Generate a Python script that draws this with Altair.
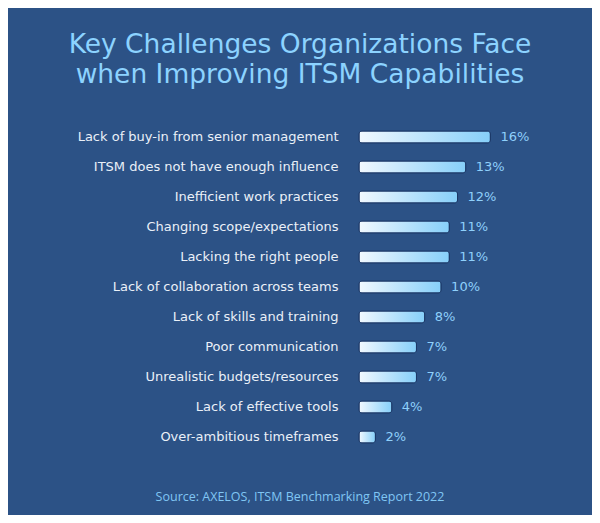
import altair as alt
import pandas as pd

categories = [
    "Lack of buy-in from senior management",
    "ITSM does not have enough influence",
    "Inefficient work practices",
    "Changing scope/expectations",
    "Lacking the right people",
    "Lack of collaboration across teams",
    "Lack of skills and training",
    "Poor communication",
    "Unrealistic budgets/resources",
    "Lack of effective tools",
    "Over-ambitious timeframes",
]
values = [16, 13, 12, 11, 11, 10, 8, 7, 7, 4, 2]
title_lines = ["Key Challenges Organizations Face", "when Improving ITSM Capabilities"]
source_text = "Source: AXELOS, ITSM Benchmarking Report 2022"

BG = "#2c5286"
FONT = "DejaVu Sans"

df = pd.DataFrame({"cat": categories, "val": values})
df["lab"] = [f"{v}%" for v in values]

y_enc = alt.Y("cat:N", sort=categories, title=None,
              scale=alt.Scale(paddingInner=0.6, paddingOuter=0.3),
              axis=alt.Axis(domain=False, ticks=False, labelPadding=21,
                            labelFontSize=13, labelColor="#eaf0f8",
                            labelFont=FONT, labelLimit=400))
x_enc = alt.X("val:Q", title=None, axis=None,
              scale=alt.Scale(domain=[0, 27.4], nice=False))

grad = alt.Gradient(
    gradient="linear",
    stops=[alt.GradientStop(color="#f2f9ff", offset=0),
           alt.GradientStop(color="#86cff9", offset=1)],
    x1=0, x2=1, y1=0, y2=0,
)

bars = alt.Chart(df).mark_bar(
    color=grad, cornerRadius=3, stroke="#1b3766", strokeWidth=1, height=12
).encode(x=x_enc, y=y_enc)

labels = alt.Chart(df).mark_text(
    align="left", baseline="middle", dx=10, fontSize=13, font=FONT, color="#8fd0fb"
).encode(x=x_enc, y=y_enc, text="lab:N")

tdf = pd.DataFrame({"t": title_lines, "yy": [-69, -39]})
title = alt.Chart(tdf).mark_text(
    align="center", baseline="alphabetic", fontSize=26.5, font=FONT, color="#8cd3ff"
).encode(x=alt.value(-59), y=alt.Y("yy:Q", scale=None), text="t:N")

sdf = pd.DataFrame({"t": [source_text]})
source = alt.Chart(sdf).mark_text(
    align="center", baseline="middle", fontSize=12.5, font="Open Sans", color="#80c6f4"
).encode(x=alt.value(-59), y=alt.value(375), text="t:N")

chart = alt.layer(bars, labels, title, source).properties(
    width=225, height=330,
    autosize=alt.AutoSizeParams(type="none"),
    padding={"left": 351, "top": 114, "right": 8, "bottom": 63},
    background=BG,
).configure_view(stroke=None)

chart.save("out.html", embed_options={"renderer": "svg", "actions": False})
